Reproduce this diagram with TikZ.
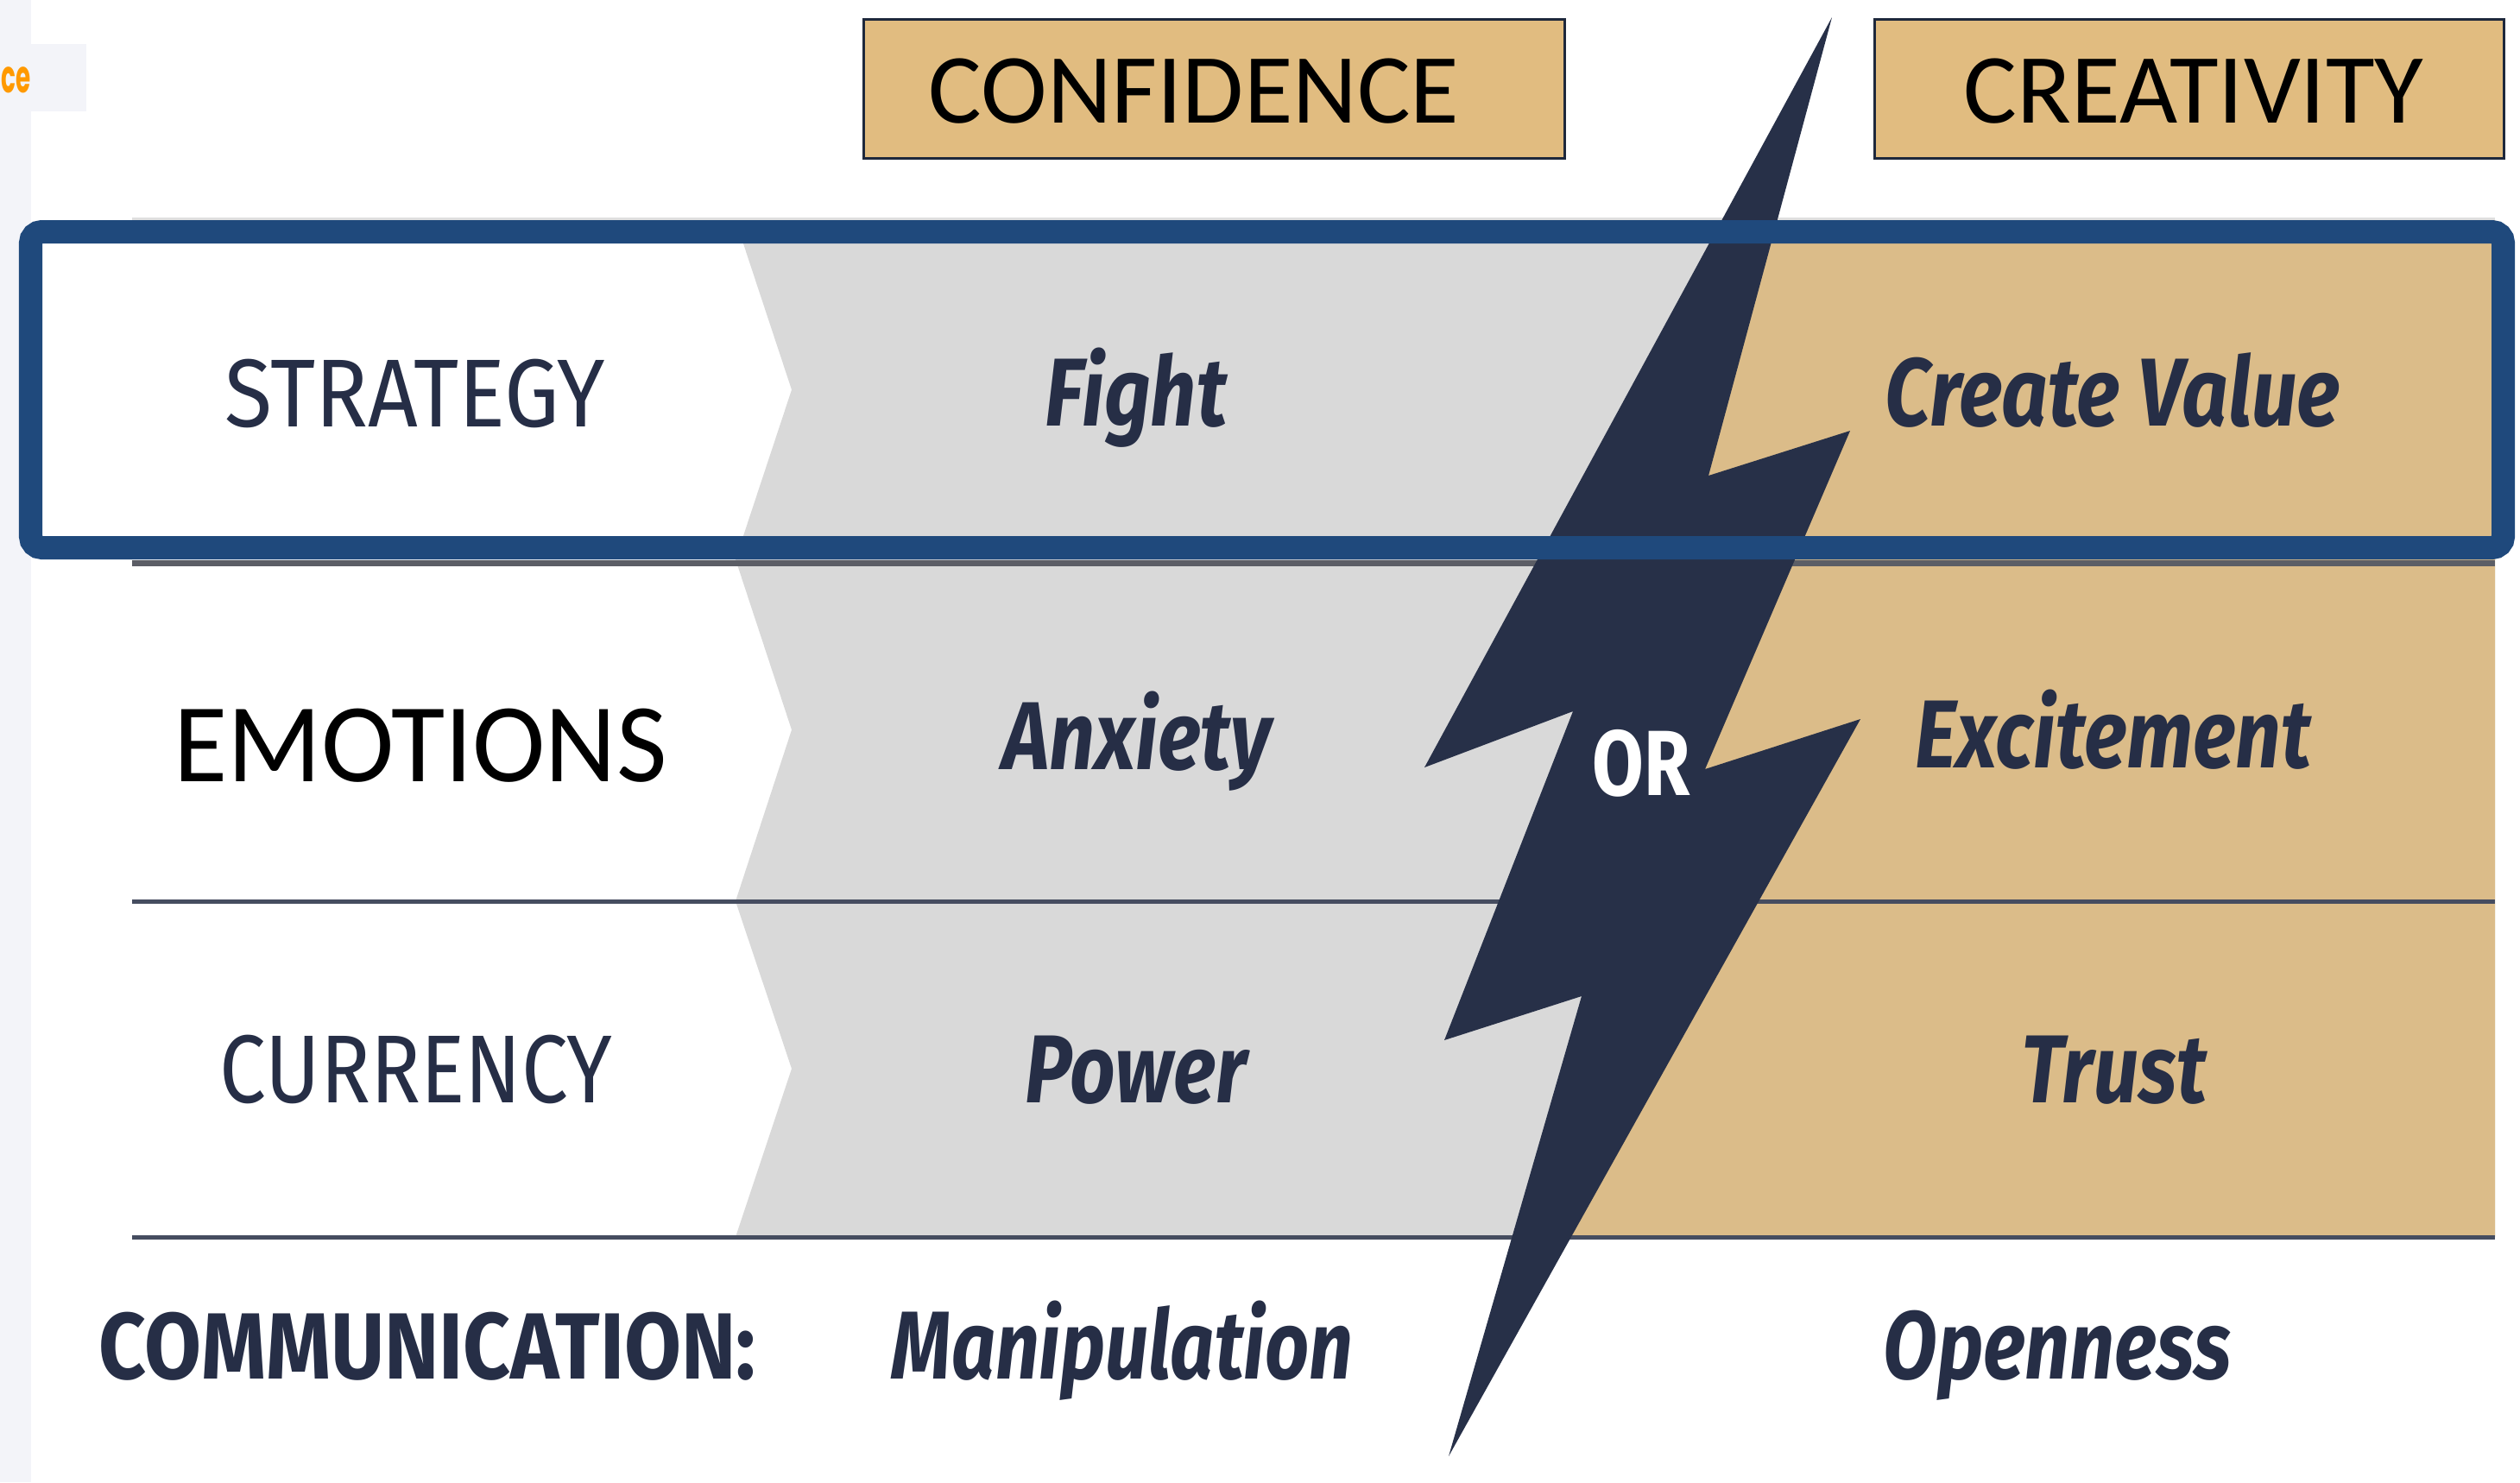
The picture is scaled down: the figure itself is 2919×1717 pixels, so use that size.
\documentclass[tikz,border=0pt]{standalone}
\usepackage{fontspec}
\usepackage{graphicx}
\setmainfont{Fira Sans}
\newfontfamily\calfont{Carlito}
\newfontfamily\tagfont{Poppins}

\definecolor{framec}{RGB}{31,73,124}
\definecolor{grayc}{RGB}{217,217,217}
\definecolor{tanc}{RGB}{219,188,137}
\definecolor{hdrc}{RGB}{225,188,128}
\definecolor{hdrline}{RGB}{30,40,60}
\definecolor{boltc}{RGB}{39,48,72}
\definecolor{inkc}{RGB}{38,46,70}
\definecolor{rulec}{RGB}{70,77,96}
\definecolor{stripc}{RGB}{243,244,249}
\definecolor{orangec}{RGB}{255,153,0}

% squeeze a text horizontally to a given width (in picture units)
\newlength\fitlen
\newcommand\fitx[2]{\settowidth\fitlen{#2}\pgfmathsetmacro\fitr{#1*0.284528/\fitlen}\scalebox{\fitr}[1]{#2}}

\tikzset{
  lbl/.style={anchor=base, inner sep=0pt, text=inkc},
  rowtxt/.style={lbl, font=\fontsize{31.8pt}{36pt}\selectfont},
  celltxt/.style={lbl, font=\fontsize{31.8pt}{36pt}\selectfont\bfseries\itshape},
  commtxt/.style={lbl, font=\fontsize{31pt}{36pt}\selectfont\bfseries},
  hdrtxt/.style={lbl, text=black, font=\calfont\fontsize{32.7pt}{38pt}\selectfont},
  hdrbox/.style={fill=hdrc, draw=hdrline, line width=0.03cm},
  rowrule/.style={draw=rulec, line width=0.05cm},
}

\begin{document}
\begin{tikzpicture}[x=0.01cm,y=-0.01cm]
\path[use as bounding box, fill=white] (0,0) rectangle (2919,1717);

% side strip and tag
\fill[stripc] (0,0) rectangle (36,1717);
\fill[stripc] (0,51) rectangle (100,129);
\node (tag) [anchor=base east, inner sep=0pt, text=orangec,
  font=\tagfont\fontsize{15pt}{18pt}\selectfont\bfseries] at (36,107) {\fitx{34}{ce}};

% column headers
\filldraw[hdrbox] (1000,22) rectangle (1812,183);
\filldraw[hdrbox] (2171,22) rectangle (2900,183);
\node (confidence) [hdrtxt] at (1383,142) {\fitx{614}{CONFIDENCE}};
\node (creativity) [hdrtxt] at (2541,142) {\fitx{532}{CREATIVITY}};

% grey band with chevrons
\fill[grayc] (852,255) -- (917,451.5) -- (852,648) -- (917,845.5) -- (852,1044)
  -- (917,1238) -- (852,1433) -- (2890,1433) -- (2890,255) -- cycle;
% tan band
\fill[tanc] (2037,255) -- (1900,560) -- (1890,890) -- (1900,1154) -- (1788,1433)
  -- (2890,1433) -- (2890,255) -- cycle;

% row rules
\draw[draw=gray!25, line width=0.03cm] (153,253) -- (2890,253);
\draw[rowrule, draw=rulec!85!tanc, line width=0.07cm] (153,652) -- (2890,652);
\draw[rowrule] (153,1044) -- (2890,1044);
\draw[rowrule] (153,1433) -- (2890,1433);

% lightning bolt
\fill[boltc] (2122,20) -- (1979,551) -- (2143,499) -- (1975,891) -- (2155,833)
  -- (1678,1687) -- (1832,1154) -- (1673,1205) -- (1822,824) -- (1650,889) -- cycle;

% highlight frame around the strategy row
\draw[draw=framec, line width=0.27cm, rounded corners=0.13cm]
  (35.5,268.5) rectangle (2899.5,634.5);

% row labels
\node (strategy) [rowtxt] at (481,494) {\fitx{440}{STRATEGY}};
\node (emotions) [lbl, text=black, font=\calfont\fontsize{37pt}{42pt}\selectfont]
  at (487,905) {\fitx{571}{EMOTIONS}};
\node (currency) [rowtxt] at (482,1277) {\fitx{454}{CURRENCY}};
\node (communication) [commtxt] at (495,1597) {\fitx{760}{COMMUNICATION:}};

% confidence column
\node (fight) [celltxt] at (1316,493) {\fitx{210}{Fight}};
\node (anxiety) [celltxt] at (1317,891) {\fitx{311}{Anxiety}};
\node (power) [celltxt] at (1316,1277) {\fitx{257}{Power}};
\node (manipulation) [celltxt] at (1300,1597) {\fitx{534}{Manipulation}};

% creativity column
\node (createvalue) [celltxt] at (2447,493) {\fitx{527}{Create Value}};
\node (excitement) [celltxt] at (2448,889) {\fitx{458}{Excitement}};
\node (trust) [celltxt] at (2449,1277) {\fitx{214}{Trust}};
\node (openness) [celltxt] at (2383,1597) {\fitx{402}{Openness}};

% the choice between the two columns
\node (or) [lbl, text=white, font=\fontsize{30.5pt}{34pt}\selectfont\bfseries]
  at (1901,921) {\fitx{113}{OR}};
\end{tikzpicture}
\end{document}
